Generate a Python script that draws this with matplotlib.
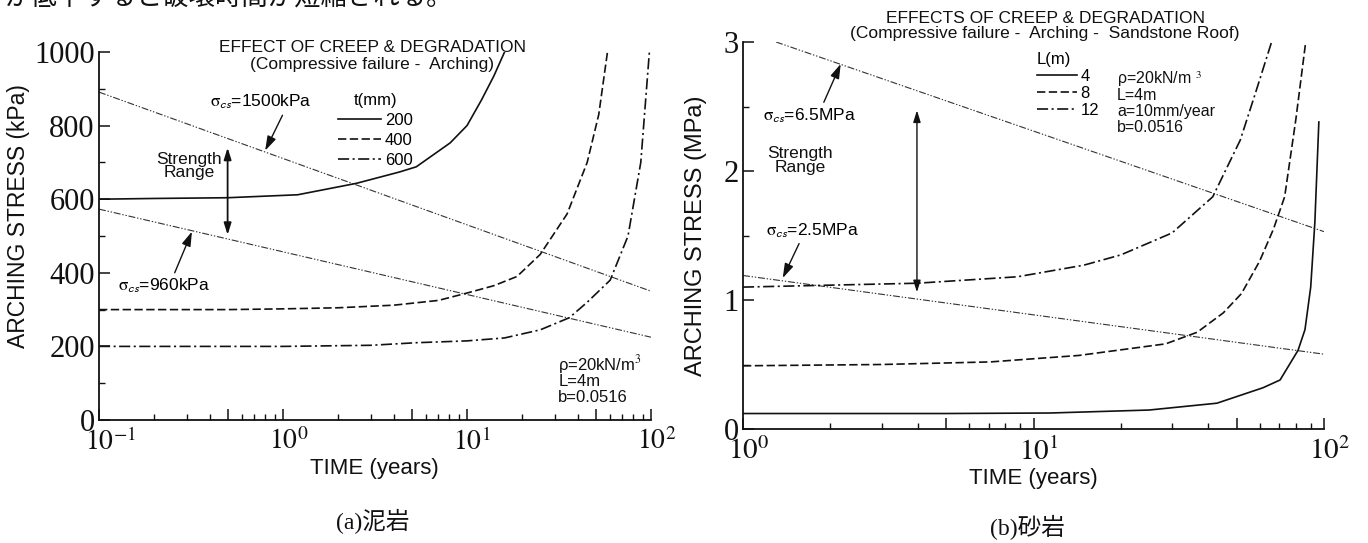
import matplotlib

matplotlib.use("Agg")
import matplotlib.pyplot as plt
from matplotlib.ticker import FixedLocator, MultipleLocator, NullFormatter
import matplotlib.transforms as mtransforms

plt.rcParams["font.family"] = ["Liberation Sans", "DejaVu Sans"]
plt.rcParams["mathtext.fontset"] = "stix"
plt.rcParams["lines.scale_dashes"] = False

INK = "#111111"
SERIF = ["Liberation Serif", "Noto Sans CJK JP"]
FS = 12.5  # annotation / legend text

# ---- (a) mudstone: arching stress (kPa) vs time (years) ----
A_T200 = [0.1, 0.2, 0.5, 1.2, 2.5, 4.3, 5.3, 8.1, 10, 12, 14, 16]
A_V200 = [600, 602, 604, 612, 643, 674, 688, 753, 800, 870, 935, 1000]
A_T400 = [0.1, 0.5, 1, 2, 4, 7, 10, 14, 18.7, 25, 35, 45, 52, 58]
A_V400 = [300, 300, 302, 305, 312, 325, 345, 365, 390, 450, 560, 700, 830, 1000]
A_T600 = [0.1, 1, 3, 5.3, 10, 16, 25, 36, 45, 60, 75, 88, 98]
A_V600 = [200, 200, 203, 210, 215, 223, 245, 278, 320, 380, 500, 700, 1000]
A_STR_T = [0.1, 100]
A_STR_1500 = [891, 350]
A_STR_960 = [573, 225]
A_PARAMS = ["ρ=20kN/m$^3$", "L=4m", "b=0.0516"]

# ---- (b) sandstone: arching stress (MPa) vs time (years) ----
B_T4 = [1, 5, 11.4, 25, 42.8, 61.7, 70.6, 81.4, 86, 90, 93, 96]
B_V4 = [0.12, 0.12, 0.124, 0.147, 0.20, 0.32, 0.38, 0.61, 0.77, 1.1, 1.6, 2.38]
B_T8 = [1, 3, 7.1, 14.3, 28.5, 36.6, 45, 52, 60, 67, 73.2, 80, 86.5]
B_V8 = [0.49, 0.50, 0.52, 0.57, 0.66, 0.75, 0.9, 1.05, 1.3, 1.55, 1.80, 2.4, 3.0]
B_T12 = [1, 3.97, 8.8, 14.9, 20, 30, 41.4, 51.5, 58, 66]
B_V12 = [1.10, 1.13, 1.18, 1.27, 1.35, 1.52, 1.80, 2.24, 2.6, 3.0]
B_STR65_T = [1.3, 100]
B_STR65 = [3.0, 1.53]
B_STR25_T = [1, 100]
B_STR25 = [1.19, 0.58]
B_PARAMS = ["ρ=20kN/m $^3$", "L=4m", "a=10mm/year", "b=0.0516"]

A_XTICKS = [0.1, 1, 10, 100]
A_XLABELS = ["$10^{-1}$", "$10^{0}$", "$10^{1}$", "$10^{2}$"]
B_XTICKS = [1, 10, 100]
B_XLABELS = ["$10^{0}$", "$10^{1}$", "$10^{2}$"]
A_YTICKS = [0, 200, 400, 600, 800, 1000]
B_YTICKS = [0, 1, 2, 3]

SOLID = "-"
DASHED = (0, (6, 2.5))
DASHDOT = (0, (8, 2.5, 1.5, 2.5))
STRENGTH = (0, (5, 1.3, 1, 1.3, 1, 1.3))
SIG = r"$\mathrm{\sigma}_{\mathsf{cs}}$"

fig = plt.figure(figsize=(13.68, 5.43), dpi=100)
axA = fig.add_axes([99 / 1368, 123 / 543, 552 / 1368, 368 / 543])
axB = fig.add_axes([743 / 1368, 114 / 543, 581 / 1368, 387 / 543])


def style_axes(ax, xticks, xlabels, ylim, yticks, yminor, xfs, yfs):
    ax.set_xscale("log")
    ax.set_xlim(xticks[0], xticks[-1])
    ax.set_ylim(*ylim)
    for s in ("top", "right"):
        ax.spines[s].set_visible(False)
    for s in ("left", "bottom"):
        ax.spines[s].set_linewidth(1.3)
        ax.spines[s].set_color(INK)
    # decades and 5s get the long tick, the rest short
    major = []
    for d in xticks:
        major.append(d)
        if d != xticks[-1]:
            major.append(d * 5)
    minor = [d * k for d in xticks[:-1] for k in (2, 3, 4, 6, 7, 8, 9)]
    ax.xaxis.set_major_locator(FixedLocator(major))
    ax.xaxis.set_minor_locator(FixedLocator(minor))
    ax.xaxis.set_major_formatter(NullFormatter())
    ax.xaxis.set_minor_formatter(NullFormatter())
    ax.set_yticks(yticks)
    ax.yaxis.set_minor_locator(MultipleLocator(yminor))
    ax.set_yticklabels([f"{v:g}" for v in yticks], fontsize=yfs, family=SERIF, color=INK)
    ax.tick_params(which="major", direction="in", length=8, width=1.1, color=INK, pad=3)
    ax.tick_params(which="minor", direction="in", length=4.5, width=1.0, color=INK)
    # decade labels: the "10" sits centred on the tick, exponent hangs right
    shift = mtransforms.ScaledTranslation(-xfs / 2 / 72, -6 / 72, fig.dpi_scale_trans)
    trans = ax.get_xaxis_transform() + shift
    for v, lab in zip(xticks, xlabels):
        ax.text(v, 0, lab, transform=trans, ha="left", va="top",
                fontsize=xfs, color=INK)


def param_block(ax, lines, x, y, step, fs):
    # one text per line so the superscript does not upset the spacing
    for i, s in enumerate(lines):
        ax.annotate(s, xy=(x, y), xycoords="axes fraction",
                    xytext=(0, -i * step), textcoords="offset points",
                    ha="left", va="center", fontsize=fs, color=INK)


style_axes(axA, A_XTICKS, A_XLABELS, (0, 1000), A_YTICKS, 100, 20, 22)
style_axes(axB, B_XTICKS, B_XLABELS, (0, 3), B_YTICKS, 0.5, 21, 22)

arrow = dict(arrowstyle="-|>,head_length=0.7,head_width=0.22", lw=1.0,
             color=INK, shrinkA=1, shrinkB=0)
double = dict(arrowstyle="<|-|>,head_length=0.7,head_width=0.22",
              lw=1.3, color=INK, shrinkA=0, shrinkB=0)

# ---- panel (a) ----
axA.plot(A_STR_T, A_STR_1500, ls=STRENGTH, lw=0.8, color="#333333")
axA.plot(A_STR_T, A_STR_960, ls=STRENGTH, lw=0.8, color="#333333")
la1, = axA.plot(A_T200, A_V200, ls=SOLID, lw=1.2, color=INK, label="200")
la2, = axA.plot(A_T400, A_V400, ls=DASHED, lw=1.2, color=INK, label="400")
la3, = axA.plot(A_T600, A_V600, ls=DASHDOT, lw=1.2, color=INK, label="600")

axA.legend(handles=[la1, la2, la3], title="t(mm)", loc="upper left",
           bbox_to_anchor=(0.433, 0.888), frameon=False, fontsize=12,
           title_fontsize=12, handlelength=2.6, handletextpad=0.2,
           labelspacing=0.3, borderpad=0, borderaxespad=0)

axA.annotate(SIG + "=1500kPa", xy=(0.8, 732), xytext=(0.76, 864),
             ha="center", va="center", fontsize=FS,
             arrowprops=dict(arrow, relpos=(0.73, 0.0)))
axA.annotate(SIG + "=960kPa", xy=(0.32, 512), xytext=(0.225, 364),
             ha="center", va="center", fontsize=FS,
             arrowprops=dict(arrow, relpos=(0.6, 1.0)))
axA.annotate("", xy=(0.5, 740), xytext=(0.5, 503), arrowprops=double)
axA.text(0.31, 690, "Strength\nRange", ha="center", va="center", fontsize=FS,
         linespacing=0.9, color=INK)

axA.text(0.495, 1.011, "EFFECT OF CREEP & DEGRADATION", transform=axA.transAxes,
         ha="center", va="center", fontsize=FS, color=INK)
axA.text(0.495, 0.967, "(Compressive failure -  Arching)", transform=axA.transAxes,
         ha="center", va="center", fontsize=FS, color=INK)
param_block(axA, A_PARAMS, 0.832, 0.152, 12.2, 12)

axA.set_ylabel("ARCHING STRESS (kPa)", fontsize=16.5, color=INK)
axA.yaxis.set_label_coords(-0.125, 0.555)
axA.set_xlabel("TIME (years)", fontsize=16, color=INK)
axA.xaxis.set_label_coords(0.498, -0.103)

# ---- panel (b) ----
axB.plot(B_STR65_T, B_STR65, ls=STRENGTH, lw=0.8, color="#333333")
axB.plot(B_STR25_T, B_STR25, ls=STRENGTH, lw=0.8, color="#333333")
lb1, = axB.plot(B_T4, B_V4, ls=SOLID, lw=1.2, color=INK, label="4")
lb2, = axB.plot(B_T8, B_V8, ls=DASHED, lw=1.2, color=INK, label="8")
lb3, = axB.plot(B_T12, B_V12, ls=DASHDOT, lw=1.2, color=INK, label="12")

axB.legend(handles=[lb1, lb2, lb3], title="L(m)", loc="upper left",
           bbox_to_anchor=(0.506, 0.975), frameon=False, fontsize=12,
           title_fontsize=12, handlelength=2.4, handletextpad=0.2,
           labelspacing=0.12, borderpad=0, borderaxespad=0,
           alignment="left")

axB.annotate(SIG + "=6.5MPa", xy=(2.17, 2.83), xytext=(1.70, 2.43),
             ha="center", va="center", fontsize=FS,
             arrowprops=dict(arrow, relpos=(0.63, 1.0)))
axB.annotate(SIG + "=2.5MPa", xy=(1.37, 1.17), xytext=(1.73, 1.54),
             ha="center", va="center", fontsize=FS,
             arrowprops=dict(arrow, relpos=(0.38, 0.0)))
axB.annotate("", xy=(3.97, 2.47), xytext=(3.97, 1.06), arrowprops=dict(double, lw=1.0))
axB.text(1.57, 2.08, "Strength\nRange", ha="center", va="center", fontsize=FS,
         linespacing=0.9, color=INK)

axB.text(0.52, 1.062, "EFFECTS OF CREEP & DEGRADATION", transform=axB.transAxes,
         ha="center", va="center", fontsize=FS, color=INK)
axB.text(0.52, 1.021, "(Compressive failure -  Arching -  Sandstone Roof)",
         transform=axB.transAxes, ha="center", va="center", fontsize=FS, color=INK)
param_block(axB, B_PARAMS, 0.644, 0.904, 11.6, 11.5)

axB.set_ylabel("ARCHING STRESS (MPa)", fontsize=17, color=INK)
axB.yaxis.set_label_coords(-0.062, 0.5)
axB.set_xlabel("TIME (years)", fontsize=16, color=INK)
axB.xaxis.set_label_coords(0.50, -0.101)

# captions and the clipped line of body text above the figure
fig.text(373 / 1368, 1 - 521 / 543, "(a)泥岩", ha="center", va="center",
         fontsize=17, family=SERIF, color=INK)
fig.text(1027 / 1368, 1 - 527 / 543, "(b)砂岩", ha="center", va="center",
         fontsize=17, family=SERIF, color=INK)
fig.text(0.003, 1.005, "が低下すると破壊時間が短縮される。", ha="left", va="center",
         fontsize=19, family=["Noto Sans CJK JP"], color=INK)

fig.savefig("out.png", dpi=100, facecolor="white")
